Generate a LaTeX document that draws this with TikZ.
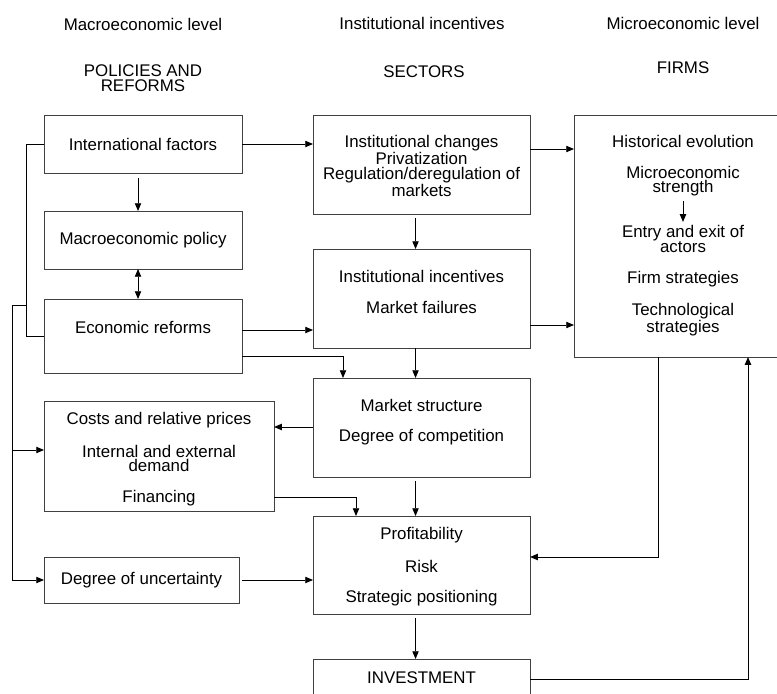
\documentclass[tikz,border=0pt]{standalone}
\usepackage{fontspec}
\setmainfont{Liberation Sans}
\usetikzlibrary{arrows.meta}
\tikzset{
  box/.style={draw=black!75, line width=0.6pt, inner sep=0pt, outer sep=0pt, anchor=north west},
  txt/.style={align=center, font=\fontsize{12}{10.6}\selectfont, inner sep=1pt},
  head/.style={align=center, font=\fontsize{12}{10.6}\selectfont, inner sep=1pt},
  link/.style={line width=0.6pt},
  arr/.style={line width=0.6pt, -{Triangle[length=5.5pt,width=4.5pt]}},
  dblarr/.style={line width=0.6pt, {Triangle[length=5.5pt,width=4.5pt]}-{Triangle[length=5.5pt,width=4.5pt]}}
}
\begin{document}
\begin{tikzpicture}[x=0.025cm, y=-0.025cm]
\clip (0,0) rectangle (777,694);

% column headers
\node[head] (h-macro) at (143,24) {Macroeconomic level};
\node[head] (h-inst) at (422,23) {Institutional incentives};
\node[head] (h-micro) at (683,23) {Microeconomic level};
\node[head] (h-pol) at (143,78) {POLICIES AND\\REFORMS};
\node[head] (h-sec) at (424,72) {SECTORS};
\node[head] (h-firms) at (683,68) {FIRMS};

% boxes
\node[box, minimum width=4.95cm, minimum height=1.45cm] (intl) at (44,115) {};
\node[box, minimum width=4.95cm, minimum height=1.45cm] (macro) at (44,211) {};
\node[box, minimum width=4.95cm, minimum height=1.85cm] (econ) at (44,299) {};
\node[box, minimum width=5.75cm, minimum height=2.75cm] (costs) at (44,401) {};
\node[box, minimum width=4.875cm, minimum height=1.15cm] (uncert) at (44,557) {};
\node[box, minimum width=5.425cm, minimum height=2.475cm] (instch) at (313,115) {};
\node[box, minimum width=5.425cm, minimum height=2.475cm] (instinc) at (313,249) {};
\node[box, minimum width=5.425cm, minimum height=2.475cm] (market) at (313,378) {};
\node[box, minimum width=5.425cm, minimum height=2.45cm] (profit) at (313,516) {};
\node[box, minimum width=5.425cm, minimum height=1.25cm] (invest) at (313,659) {};
\node[box, minimum width=5.45cm, minimum height=6.05cm] (firms) at (574,115) {};

% box texts
\node[txt] (intl-t) at (intl.center) {International factors};
\node[txt] (macro-t) at (macro.center) {Macroeconomic policy};
\node[txt] (econ-t) at ([shift={(0,28)}]econ.north) {Economic reforms};
\node[txt] (costs-t) at ([shift={(0,58)}]costs.north) {Costs and relative prices\\[11pt]Internal and external\\demand\\[11pt]Financing};
\node[txt] (uncert-t) at (uncert.center) {Degree of uncertainty};
\node[txt] (instch-t) at ([shift={(0,51)}]instch.north) {Institutional changes\\Privatization\\Regulation/deregulation of\\markets};
\node[txt] (instinc-t) at ([shift={(0,43)}]instinc.north) {Institutional incentives\\[11pt]Market failures};
\node[txt] (market-t) at ([shift={(0,44)}]market.north) {Market structure\\[11pt]Degree of competition};
\node[txt] (profit-t) at ([shift={(0,51)}]profit.north) {Profitability\\[11pt]Risk\\[11pt]Strategic positioning};
\node[txt] (invest-t) at ([shift={(0,19)}]invest.north) {INVESTMENT};
\node[txt] (firms-a) at (683,166) {Historical evolution\\[11pt]Microeconomic\\strength};
\node[txt] (firms-b) at (683,281) {Entry and exit of\\actors\\[11pt]Firm strategies\\[11pt]Technological\\strategies};

% left column
\draw[arr] ([shift={(-5,5)}]intl.south) -- ([shift={(-5,0)}]macro.north);
\draw[dblarr] ([shift={(-5,0)}]macro.south) -- ([shift={(-5,0)}]econ.north);
\draw[link] (intl.west) -- ++(-18,0) coordinate (lb) |- (econ.west);
\coordinate (spine) at (12,305);
\coordinate (k1) at ([shift={(0,49)}]costs.north west);
\draw[arr] (lb |- spine) -- (spine) |- (uncert.west);
\draw[arr] (spine |- k1) -- (k1);

% left to middle
\draw[arr] (intl.east) -- (intl.east -| instch.west);
\draw[arr] ([shift={(0,31)}]econ.north east) coordinate (e1) -- (e1 -| instinc.west);
\draw[arr] ([shift={(0,57)}]econ.north east) -| ([shift={(30,0)}]market.north west);
\draw[arr] ([shift={(0,49)}]market.north west) coordinate (m1) -- (m1 -| costs.east);
\draw[arr] ([shift={(0,96)}]costs.north east) -| ([shift={(43,0)}]profit.north west);
\draw[arr] ([shift={(3,0)}]uncert.east) -- (uncert.east -| profit.west);

% middle column
\draw[arr] ([shift={(-6,4)}]instch.south) -- ([shift={(-6,0)}]instinc.north);
\draw[arr] ([shift={(-6,0)}]instinc.south) -- ([shift={(-6,0)}]market.north);
\draw[arr] ([shift={(-6,4)}]market.south) -- ([shift={(-6,0)}]profit.north);
\draw[arr] ([shift={(-6,4)}]profit.south) -- ([shift={(-6,0)}]invest.north);

% middle to firms and back
\draw[arr] ([shift={(0,34)}]instch.north east) coordinate (c1) -- (c1 -| firms.west);
\draw[arr] ([shift={(0,76)}]instinc.north east) coordinate (c2) -- (c2 -| firms.west);
\draw[arr] ([shift={(0,3)}]firms-a.south) -- ([shift={(0,-2)}]firms-b.north);
\draw[arr] ([shift={(84,0)}]firms.south west) |- ([shift={(0,41)}]profit.north east);
\draw[arr] ([shift={(0,20)}]invest.north east) -| ([shift={(174,0)}]firms.south west);
\end{tikzpicture}
\end{document}
